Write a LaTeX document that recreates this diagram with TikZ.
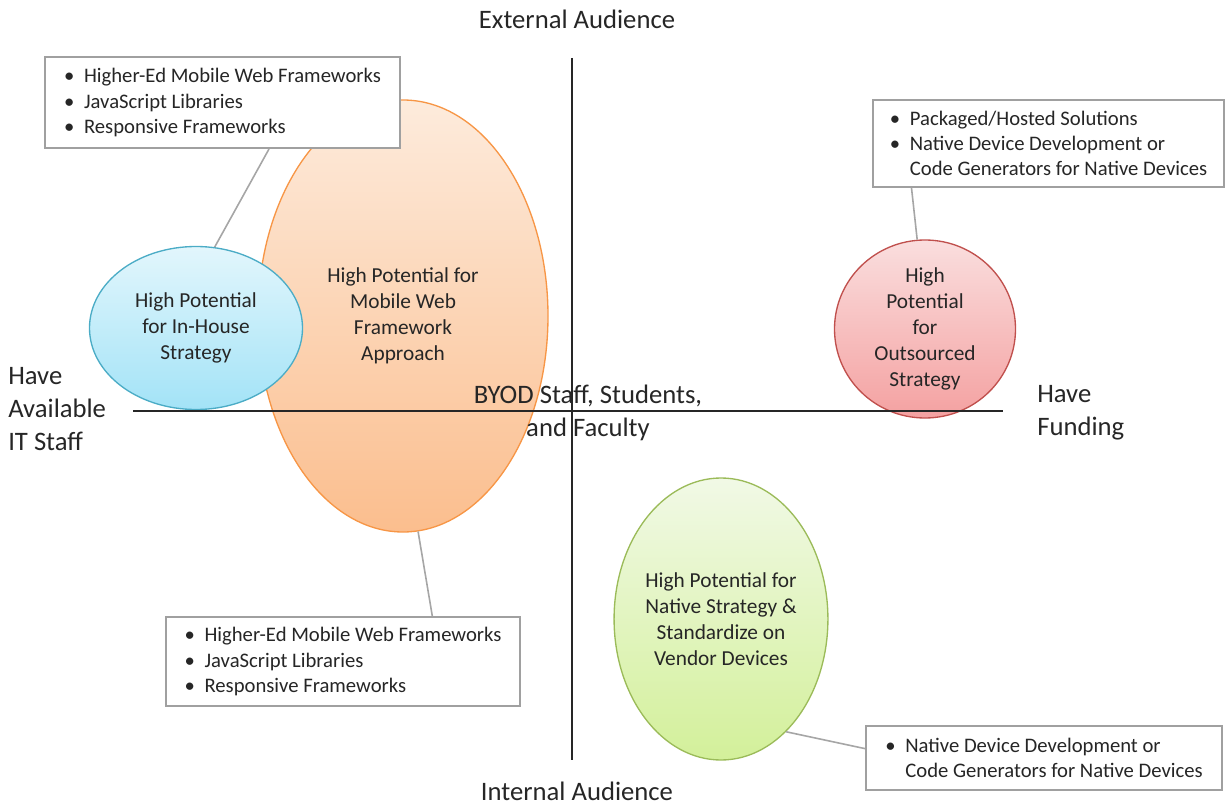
\documentclass[tikz,border=0pt]{standalone}
\usepackage{fontspec}
\setmainfont{Carlito}
\usetikzlibrary{shapes.geometric}

\definecolor{axisgray}{HTML}{262626}
\definecolor{boxgray}{HTML}{A0A0A0}
\definecolor{leadgray}{HTML}{A6A6A6}
\definecolor{webline}{HTML}{F79646}
\definecolor{webtop}{HTML}{FDEBDC}
\definecolor{webbot}{HTML}{FBBE8E}
\definecolor{houseline}{HTML}{4BACC6}
\definecolor{housetop}{HTML}{E2F6FC}
\definecolor{housebot}{HTML}{A3E3F7}
\definecolor{outline}{HTML}{C0504D}
\definecolor{outtop}{HTML}{FADEDE}
\definecolor{outbot}{HTML}{F4A1A1}
\definecolor{nativeline}{HTML}{9BBB59}
\definecolor{nativetop}{HTML}{F1F9E6}
\definecolor{nativebot}{HTML}{D3F09A}

\newcommand{\bul}{\makebox[15pt][l]{\textbullet}}
\newcommand{\bulsp}{\hspace*{15pt}}

\begin{document}
\begin{tikzpicture}[x=.75pt,y=-.75pt,
  biglabel/.style={inner sep=0pt,text=axisgray,font=\fontsize{20}{25}\selectfont},
  blob/.style={ellipse,draw,line width=1pt,inner sep=0pt,align=center,
    text=axisgray,font=\fontsize{16}{19.5}\selectfont},
  tools/.style={draw=boxgray,line width=1.5pt,fill=white,align=left,inner sep=2pt,
    text=axisgray,font=\fontsize{15.5}{19}\selectfont},
  lead/.style={draw=leadgray,line width=1.2pt},
  axis/.style={draw=axisgray,line width=1.5pt}]
  \useasboundingbox (0,0) rectangle (1225,806);

  % the four strategies
  \node[blob,draw=webline,top color=webtop,bottom color=webbot,
    minimum width=217.5pt,minimum height=324pt] (mobweb) at (403,316)
    {High Potential for\\Mobile Web\\Framework\\Approach};
  \node[blob,draw=houseline,top color=housetop,bottom color=housebot,
    minimum width=159.75pt,minimum height=122.25pt] (inhouse) at (196,328)
    {High Potential\\for In-House\\Strategy};
  \node[blob,draw=outline,top color=outtop,bottom color=outbot,
    minimum width=135.75pt,minimum height=133.5pt] (outsrc) at (925,329)
    {High\\Potential\\for\\Outsourced\\Strategy};
  \node[blob,draw=nativeline,top color=nativetop,bottom color=nativebot,
    minimum width=156.75pt,minimum height=211.5pt] (native) at (721,619)
    {High Potential for\\Native Strategy \&\\Standardize on\\Vendor Devices};

  % axes
  \coordinate (west) at (133,411);
  \coordinate (east) at (1003,411);
  \coordinate (north) at (572,58);
  \coordinate (south) at (572,760);
  \draw[axis] (west) -- (east);
  \draw[axis] (north) -- (south);

  \node[biglabel] (ext) at (577,19) {External Audience};
  \node[biglabel] (int) at (577,791) {Internal Audience};
  \node[biglabel,align=left,anchor=west] (staff) at (8,409) {Have\\Available\\IT Staff};
  \node[biglabel,align=left,anchor=west] (fund) at (1037,413) {Have\\Funding};
  \node[biglabel,align=center] (byod) at (588,413) {BYOD Staff, Students,\\and Faculty};

  % callouts
  \node[tools,minimum width=266.25pt,minimum height=68.25pt] (toolsA) at (222.5,102.5)
    {\bul Higher-Ed Mobile Web Frameworks\\\bul JavaScript Libraries\\\bul Responsive Frameworks};
  \node[tools,minimum width=263.25pt,minimum height=65.25pt] (toolsB) at (1048.5,143.5)
    {\bul Packaged/Hosted Solutions\\\bul Native Device Development or\\\bulsp Code Generators for Native Devices};
  \node[tools,minimum width=265.5pt,minimum height=66.75pt] (toolsC) at (343,661.5)
    {\bul Higher-Ed Mobile Web Frameworks\\\bul JavaScript Libraries\\\bul Responsive Frameworks};
  \node[tools,minimum width=267pt,minimum height=48pt] (toolsD) at (1044,758)
    {\bul Native Device Development or\\\bulsp Code Generators for Native Devices};

  \draw[lead] (toolsA.-45) -- (inhouse.77);
  \draw[lead] (toolsB.198) -- (outsrc.95);
  \draw[lead] (mobweb.-86) -- (toolsC.27);
  \draw[lead] (native.-60) -- (toolsD.177);
\end{tikzpicture}
\end{document}
